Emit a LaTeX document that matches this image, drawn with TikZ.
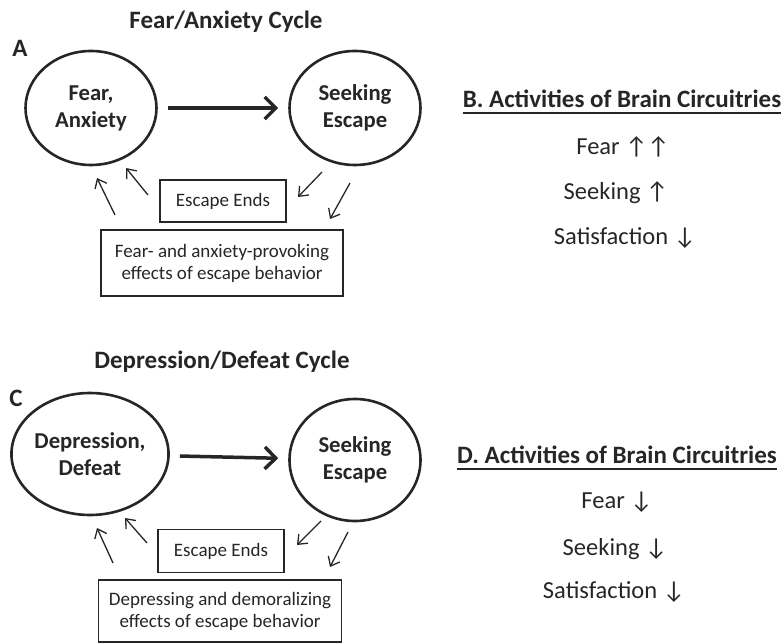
\documentclass[tikz,border=0pt]{standalone}
\usepackage{fontspec}
\setmainfont{Carlito}
\usetikzlibrary{arrows.meta,shapes.geometric}

\tikzset{
  ink/.style={black!85},
  state/.style={ellipse, draw, ink, line width=2.6pt, minimum width=131pt, minimum height=114pt,
    inner sep=0pt, align=center, font=\fontsize{22.7}{27}\selectfont\bfseries},
  effectbox/.style={draw, ink, line width=1.2pt, align=center, font=\fontsize{19}{22}\selectfont},
  cyclearrow/.style={ink, line width=3.5pt, -{Straight Barb[length=11pt,width=22pt]}},
  backarrow/.style={ink, line width=1.3pt, -{Straight Barb[length=8pt,width=13pt]}},
  heading/.style={ink, font=\fontsize{25}{30}\selectfont\bfseries},
  level/.style={ink, anchor=base, font=\fontsize{24.5}{29}\selectfont},
}

\begin{document}
\begin{tikzpicture}[x=1pt, y=-1pt]
  \useasboundingbox (0,0) rectangle (784,644);

  % A: fear/anxiety cycle
  \node[heading] (a-title) at (226,22) {Fear/Anxiety Cycle};
  \node[heading] (a-tag) at (20,48) {A};
  \node[state] (a-fear) at (91,108) {Fear,\\Anxiety};
  \node[state] (a-seek) at (355,108) {Seeking\\Escape};
  \node[effectbox, minimum width=126pt, minimum height=42pt] (a-ends) at (223,201) {Escape Ends};
  \node[effectbox, minimum width=242pt, minimum height=66pt] (a-effects) at (222,263)
    {Fear- and anxiety-provoking\\effects of escape behavior};
  \coordinate (a-in1) at (148,195);  \coordinate (a-out1) at (126,168);
  \coordinate (a-in2) at (115,215);  \coordinate (a-out2) at (97,178);
  \coordinate (a-in3) at (322,172);  \coordinate (a-out3) at (298,197);
  \coordinate (a-in4) at (350,183);  \coordinate (a-out4) at (330,219);
  \draw[cyclearrow, shorten <=10pt, shorten >=10pt] (a-fear) -- (a-seek);
  \draw[backarrow] (a-in1) -- (a-out1);
  \draw[backarrow] (a-in2) -- (a-out2);
  \draw[backarrow] (a-in3) -- (a-out3);
  \draw[backarrow] (a-in4) -- (a-out4);

  % B: circuit activities
  \node[heading, anchor=base, inner sep=0pt] (b-head) at (622,108) {B. Activities of Brain Circuitries};
  \draw[ink, line width=1.4pt] ([yshift=-5pt]b-head.base west) -- ([yshift=-5pt]b-head.base east);
  \node[level] (b-fear) at (623,155) {Fear ↑↑};
  \node[level] (b-seek) at (616,200) {Seeking ↑};
  \node[level] (b-sat) at (625,245) {Satisfaction ↓};

  % C: depression/defeat cycle
  \node[heading] (c-title) at (222,362) {Depression/Defeat Cycle};
  \node[heading] (c-tag) at (16,398) {C};
  \node[state, minimum height=122pt] (c-dep) at (90,454) {Depression,\\Defeat};
  \node[state, minimum height=122pt] (c-seek) at (355,460) {Seeking\\Escape};
  \node[effectbox, minimum width=126pt, minimum height=43pt] (c-ends) at (221,551) {Escape Ends};
  \node[effectbox, minimum width=243pt, minimum height=62pt] (c-effects) at (220,611)
    {Depressing and demoralizing\\effects of escape behavior};
  \coordinate (c-in1) at (147,543);  \coordinate (c-out1) at (125,518);
  \coordinate (c-in2) at (113,563);  \coordinate (c-out2) at (97,528);
  \coordinate (c-in3) at (321,521);  \coordinate (c-out3) at (297,545);
  \coordinate (c-in4) at (348,532);  \coordinate (c-out4) at (330,567);
  \draw[cyclearrow, shorten <=10pt, shorten >=10pt] (c-dep) -- (c-seek);
  \draw[backarrow] (c-in1) -- (c-out1);
  \draw[backarrow] (c-in2) -- (c-out2);
  \draw[backarrow] (c-in3) -- (c-out3);
  \draw[backarrow] (c-in4) -- (c-out4);

  % D: circuit activities
  \node[heading, anchor=base, inner sep=0pt] (d-head) at (617,463) {D. Activities of Brain Circuitries};
  \draw[ink, line width=1.4pt] ([yshift=-6pt]d-head.base west) -- ([yshift=-6pt]d-head.base east);
  \node[level] (d-fear) at (617,508) {Fear ↓};
  \node[level] (d-seek) at (615,555) {Seeking ↓};
  \node[level] (d-sat) at (614,598) {Satisfaction ↓};
\end{tikzpicture}
\end{document}
